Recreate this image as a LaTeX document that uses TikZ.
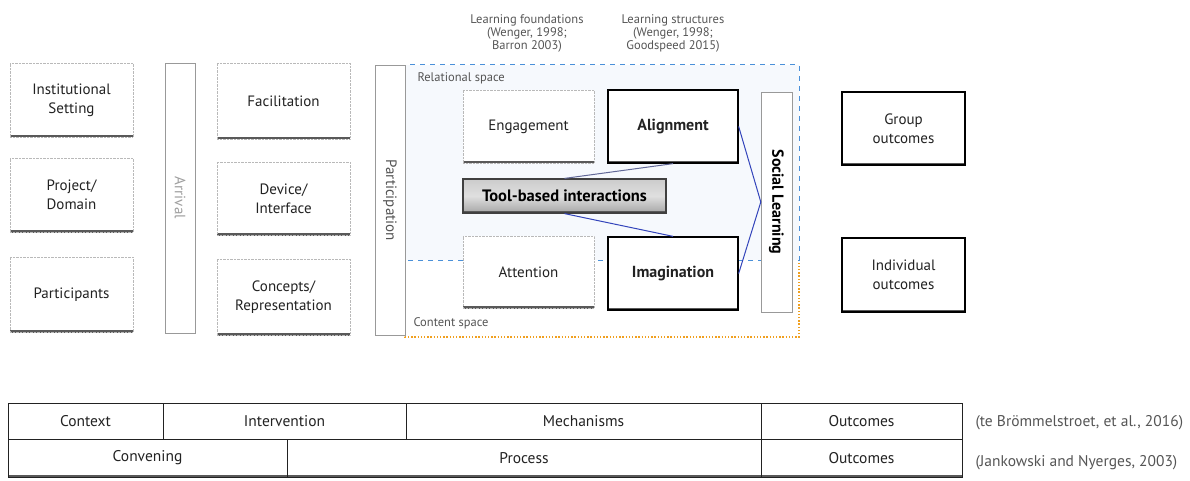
\documentclass[tikz,border=0pt]{standalone}
\usepackage{fontspec}
\setmainfont{PT Sans}
\usetikzlibrary{positioning}
\definecolor{relblue}{HTML}{4A90D9}
\definecolor{conorange}{HTML}{F0A020}
\definecolor{linkblue}{HTML}{3344BB}
\definecolor{inkgray}{HTML}{222222}
\definecolor{notegray}{HTML}{555555}
\tikzset{
  boxshadow/.style={path picture={\draw[solid,black!65,line width=3.4pt]
    (path picture bounding box.south west) -- (path picture bounding box.south east);}},
  lightbox/.style={draw=gray!55,densely dotted,fill=white,boxshadow,align=center,
    text=inkgray,font=\fontsize{15}{19}\selectfont,inner sep=0},
  boldbox/.style={draw=black,line width=1.3pt,fill=white,boxshadow,align=center,
    text=inkgray,font=\fontsize{15}{19}\selectfont,inner sep=0},
  barbox/.style={draw=gray!80,fill=white,rotate=-90,inner sep=0,
    font=\fontsize{15}{19}\selectfont},
  toolbox/.style={draw=black!75,line width=1.2pt,top color=gray!40,bottom color=gray!70,
    middle color=gray!25,boxshadow,inner sep=0,font=\bfseries\fontsize{16.5}{19}\selectfont},
  tcell/.style={draw=inkgray,line width=1pt,inner sep=0,text=inkgray,
    font=\fontsize{15.5}{18}\selectfont},
  note/.style={text=notegray,align=center,font=\fontsize{12.5}{13}\selectfont},
  cite/.style={text=notegray,anchor=west,font=\fontsize{15.5}{18}\selectfont},
}
\begin{document}
\begin{tikzpicture}[x=1pt,y=-1pt]
\useasboundingbox (0,0) rectangle (1190,481);

% spaces
\fill[relblue!5] (405,65) rectangle (799,260);
\draw[conorange,line width=1.4pt,dash pattern=on 1.4pt off 1.8pt] (405,260) -- (405,337) -- (799,337) -- (799,260);
\draw[relblue,line width=1pt,dash pattern=on 5pt off 5pt] (405,260) -- (405,65) -- (799,65) -- (799,260) -- cycle;
\node[anchor=west,text=notegray,font=\fontsize{12.5}{14}\selectfont] (relspace) at (414,78) {Relational space};
\node[anchor=west,text=notegray,font=\fontsize{12.5}{14}\selectfont] (conspace) at (410,323) {Content space};

% column headings
\node[note] (found) at (527,33) {Learning foundations\\(Wenger, 1998;\\Barron 2003)};
\node[note] (struct) at (673,33) {Learning structures\\(Wenger, 1998;\\Goodspeed 2015)};

% context column
\node[lightbox,minimum width=123,minimum height=74] (inst) at (71.5,100) {Institutional\\Setting};
\node[lightbox,minimum width=123,minimum height=74] (proj) at (71.5,195) {Project/\\Domain};
\node[lightbox,minimum width=123,minimum height=75] (parts) at (71.5,294.5) {Participants};
\node[barbox,minimum width=270,minimum height=30,text=gray!75] (arrival) at (180,198) {Arrival};

% intervention column
\node[lightbox,minimum width=133,minimum height=76] (facil) at (283.5,101) {Facilitation};
\node[lightbox,minimum width=133,minimum height=73] (device) at (283.5,198.5) {Device/\\Interface};
\node[lightbox,minimum width=133,minimum height=76] (concepts) at (283.5,297) {Concepts/\\Representation};
\node[barbox,minimum width=270,minimum height=30,text=notegray] (particip) at (390,200) {Participation};

% mechanisms
\node[lightbox,minimum width=131,minimum height=73] (engage) at (528.5,126.5) {Engagement};
\node[boldbox,minimum width=130,minimum height=73,font=\bfseries\fontsize{16}{19}\selectfont] (align) at (673,126.5) {Alignment};
\node[toolbox,minimum width=203,minimum height=34] (tool) at (564.5,196) {Tool-based interactions};
\node[lightbox,minimum width=131,minimum height=72] (attent) at (528.5,272) {Attention};
\node[boldbox,minimum width=130,minimum height=73,font=\bfseries\fontsize{16}{19}\selectfont] (imagin) at (673,273.5) {Imagination};
\node[barbox,minimum width=220,minimum height=31,text=black,font=\bfseries\fontsize{16}{19}\selectfont] (social) at (776.5,202) {Social Learning};

\draw[gray!60!linkblue,line width=1pt] (tool.north) -- (align.south);
\draw[linkblue,line width=1pt] (tool.south) -- (imagin.north);
\draw[linkblue,line width=1pt] (align.east) -- (social.south);
\draw[linkblue,line width=1pt] (imagin.east) -- (social.south);

% outcomes
\node[boldbox,minimum width=123,minimum height=73] (group) at (903.5,128.5) {Group\\outcomes};
\node[boldbox,minimum width=123,minimum height=74] (indiv) at (903.5,275) {Individual\\outcomes};

% frameworks table
\node[tcell,minimum width=155,minimum height=36] (ctx) at (85.5,421) {Context};
\node[tcell,minimum width=243,minimum height=36] (interv) at (284.5,421) {Intervention};
\node[tcell,minimum width=355,minimum height=36] (mech) at (583.5,421) {Mechanisms};
\node[tcell,minimum width=201,minimum height=36] (outa) at (861.5,421) {Outcomes};
\node[tcell,minimum width=279,minimum height=38,boxshadow] (conv) at (147.5,458) {Convening};
\node[tcell,minimum width=474,minimum height=38,boxshadow] (proc) at (524,458) {Process};
\node[tcell,minimum width=201,minimum height=38,boxshadow] (outb) at (861.5,458) {Outcomes};
\node[cite] (citea) at (972,423) {(te Brömmelstroet, et al., 2016)};
\node[cite] (citeb) at (972,463) {(Jankowski and Nyerges, 2003)};
\end{tikzpicture}
\end{document}
